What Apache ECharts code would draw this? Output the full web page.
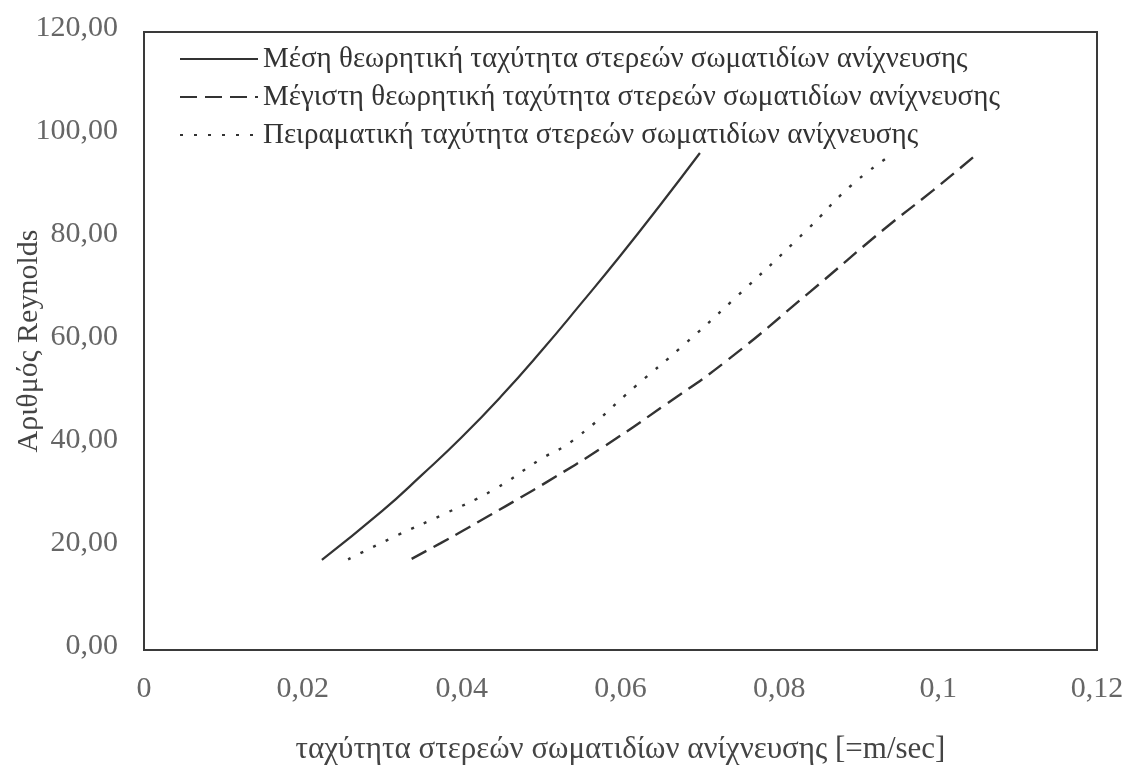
<!DOCTYPE html>
<html>
<head>
<meta charset="utf-8">
<script src="https://cdn.jsdelivr.net/npm/echarts@6/dist/echarts.min.js"></script>
<style>
  html, body { margin: 0; padding: 0; background: #fff; }
  #chart { width: 1134px; height: 768px; }
</style>
</head>
<body>
<div id="chart"></div>
<script>
// Series names (legend entries)
const seriesNames = [
  'Μέση θεωρητική ταχύτητα στερεών σωματιδίων ανίχνευσης',
  'Μέγιστη θεωρητική ταχύτητα στερεών σωματιδίων ανίχνευσης',
  'Πειραματική ταχύτητα στερεών σωματιδίων ανίχνευσης'
];

// Velocity [m/s] and Reynolds number pairs for each curve
const meanVelocity = [0.0224, 0.030, 0.035, 0.040, 0.045, 0.050, 0.055, 0.060, 0.065, 0.070];
const meanReynolds = [17.5, 27.0, 34.0, 41.3, 49.3, 58.0, 67.2, 76.6, 86.4, 96.5];

const maxVelocity = [0.0337, 0.0373, 0.0402, 0.0436, 0.0474, 0.0507, 0.0579, 0.0658, 0.0734, 0.0839, 0.0931, 0.0994, 0.1045];
const maxReynolds = [17.7, 20.7, 23.2, 26.2, 29.6, 32.6, 39.5, 47.8, 56.2, 69.6, 81.6, 89.3, 95.8];

const expVelocity = [0.0257, 0.0322, 0.0375, 0.0440, 0.0499, 0.0541, 0.0621, 0.0675, 0.0742, 0.0835, 0.0889, 0.0935];
const expReynolds = [17.6, 22.5, 26.2, 31.1, 37.0, 40.8, 51.5, 58.6, 68.0, 81.6, 90.0, 95.5];

// Axis tick labels
const xTickLabels = ['0', '0,02', '0,04', '0,06', '0,08', '0,1', '0,12'];
const yTickLabels = ['0,00', '20,00', '40,00', '60,00', '80,00', '100,00', '120,00'];

const xAxisTitle = 'ταχύτητα στερεών σωματιδίων ανίχνευσης [=m/sec]';
const yAxisTitle = 'Αριθμός Reynolds';

const pairs = (xs, ys) => xs.map((x, i) => [x, ys[i]]);
const serif = '"Liberation Serif", "Times New Roman", serif';
const ink = '#333';

const chart = echarts.init(document.getElementById('chart'));
chart.setOption({
  animation: false,
  backgroundColor: '#fff',
  textStyle: { fontFamily: serif },
  grid: {
    left: 144, right: 37, top: 32, bottom: 118,
    outerBoundsMode: 'none', containLabel: false,
    show: true, borderColor: '#3a3a3a', borderWidth: 2, backgroundColor: 'transparent'
  },
  legend: {
    orient: 'vertical',
    left: 174, top: 38,
    itemWidth: 78, itemHeight: 14, itemGap: 6,
    itemStyle: { color: 'rgba(0,0,0,0)', borderWidth: 0 },
    textStyle: { fontFamily: serif, fontSize: 29, color: ink, lineHeight: 32 },
    data: seriesNames
  },
  xAxis: {
    type: 'value', min: 0, max: 0.12, interval: 0.02,
    axisLine: { show: false }, axisTick: { show: false }, splitLine: { show: false },
    axisLabel: {
      margin: 24, fontSize: 30, color: '#666', fontFamily: serif,
      formatter: v => xTickLabels[Math.round(v / 0.02)]
    },
    name: xAxisTitle, nameLocation: 'middle', nameGap: 84, nameMoveOverlap: false,
    nameTextStyle: { fontSize: 31, color: '#444', fontFamily: serif }
  },
  yAxis: {
    type: 'value', min: 0, max: 120, interval: 20,
    axisLine: { show: false }, axisTick: { show: false }, splitLine: { show: false },
    axisLabel: {
      margin: 26, fontSize: 30, color: '#666', fontFamily: serif,
      verticalAlign: 'bottom', lineHeight: 8,
      formatter: v => yTickLabels[Math.round(v / 20)]
    },
    name: yAxisTitle, nameLocation: 'middle', nameRotate: 90, nameGap: 100, nameMoveOverlap: false,
    nameTextStyle: { fontSize: 30, color: '#444', fontFamily: serif }
  },
  series: [
    {
      name: seriesNames[0], type: 'line', smooth: true, symbol: 'none',
      lineStyle: { color: ink, width: 2.2, type: 'solid' },
      itemStyle: { color: ink },
      data: pairs(meanVelocity, meanReynolds)
    },
    {
      name: seriesNames[1], type: 'line', smooth: true, symbol: 'none',
      lineStyle: { color: ink, width: 2.4, type: [17, 8] },
      itemStyle: { color: ink },
      data: pairs(maxVelocity, maxReynolds)
    },
    {
      name: seriesNames[2], type: 'line', smooth: true, symbol: 'none',
      lineStyle: { color: ink, width: 2.4, type: [3, 11] },
      itemStyle: { color: ink },
      data: pairs(expVelocity, expReynolds)
    }
  ]
});
</script>
</body>
</html>
